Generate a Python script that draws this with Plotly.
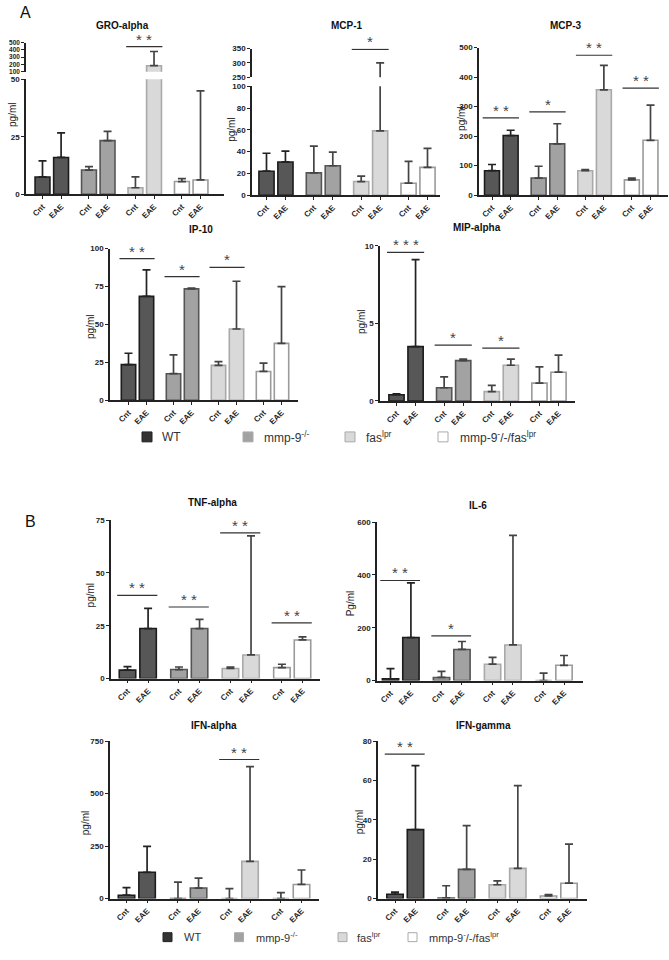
import plotly.graph_objects as go

W, H = 669, 960

# ---------------- data ----------------
GROUPS = ["WT", "mmp-9<sup>-/-</sup>", "fas<sup>lpr</sup>", "mmp-9<sup>-</sup>/-/fas<sup>lpr</sup>"]
CONDITIONS = ["Cnt", "EAE"]
# order of values: WT Cnt, WT EAE, mmp Cnt, mmp EAE, fas Cnt, fas EAE, dko Cnt, dko EAE
gro_mean = [7.5, 16.0, 10.5, 23.3, 2.8, 182, 5.5, 6.2]
gro_sd = [7.0, 10.7, 1.5, 4.0, 4.7, 196, 1.3, 38.8]
mcp1_mean = [22, 30.5, 20.5, 27, 12.5, 59, 11, 25.5]
mcp1_sd = [16.5, 10, 24.5, 12.5, 5, 241, 20, 17.5]
mcp3_mean = [83, 202, 58, 174, 83, 357, 52, 186]
mcp3_sd = [21, 18, 40, 68, 4, 83, 6, 119]
ip10_mean = [23.5, 68.5, 17.5, 73.5, 23, 47, 19, 37.5]
ip10_sd = [7.5, 17.5, 12.5, 0.5, 2.5, 31.5, 5.5, 37.5]
mip_mean = [0.4, 3.5, 0.85, 2.6, 0.6, 2.3, 1.15, 1.85]
mip_sd = [0.05, 5.6, 0.7, 0.1, 0.4, 0.4, 1.05, 1.1]
tnf_mean = [4.0, 23.7, 4.3, 23.7, 4.8, 11.2, 5.2, 18.3]
tnf_sd = [1.7, 9.5, 1.2, 4.3, 0.7, 56.3, 1.6, 1.5]
il6_mean = [7, 163, 12, 118, 62, 135, 0, 58]
il6_sd = [38, 207, 23, 30, 26, 415, 28, 37]
ifna_mean = [16, 125, 0, 50, 0, 177, 0, 67]
ifna_sd = [36, 123, 78, 47, 47, 451, 28, 69]
ifng_mean = [2.2, 35, 0.3, 14.8, 7, 15.3, 1.3, 7.8]
ifng_sd = [1.1, 32.5, 6.2, 22.2, 2, 42, 0.7, 19.8]

# significance: (group index, bracket value, label)
gro_sig = [(2, 445, "* *")]
mcp1_sig = [(2, 347, "*")]
mcp3_sig = [(0, 262, "* *"), (1, 282, "*"), (2, 474, "* *"), (3, 363, "* *")]
ip10_sig = [(0, 93.5, "* *"), (1, 81.5, "*"), (2, 87.6, "*")]
mip_sig = [(0, 9.57, "* * *"), (1, 3.6, "*"), (2, 3.4, "*")]
tnf_sig = [(0, 39.4, "* *"), (1, 33.9, "* *"), (2, 69, "* *"), (3, 26.4, "* *")]
il6_sig = [(0, 379, "* *"), (1, 169, "*")]
ifna_sig = [(2, 662, "* *")]
ifng_sig = [(0, 73.3, "* *")]

# ---------------- style ----------------
FONT = "Liberation Sans, Arial, sans-serif"
FILL = ["#575757", "#a2a2a2", "#d9d9d9", "#ffffff"]
EDGE = ["#1c1c1c", "#555555", "#a9a9a9", "#9a9a9a"]
ERRC = ["#222222", "#444444", "#444444", "#444444"]
STEP = 2.5


def pos(g, c):
    return g * STEP + c


def pxx(x):
    return x / W


def pxy(y):
    return 1 - y / H


panels = [
    dict(title="GRO-alpha", mean=gro_mean, sd=gro_sd, x=(26, 224), c=(42.5, 200.5),
         segs=[((192, 76), (0, 50), [0, 25, 50], 8), ((68.3, 39), (100, 500), [100, 200, 300, 400, 500], 6.5)],
         sig=gro_sig, sigseg=1, tpos=(122, 22), ylab=(13, 112), ytext="pg/ml"),
    dict(title="MCP-1", mean=mcp1_mean, sd=mcp1_sd, x=(252, 440), c=(266.5, 427.5),
         segs=[((193, 83), (0, 100), [0, 20, 40, 60, 80, 100], 8), ((74, 45), (250, 350), [250, 300, 350], 8)],
         sig=mcp1_sig, sigseg=1, tpos=(347, 22), ylab=(232, 127), ytext="pg/ml"),
    dict(title="MCP-3", mean=mcp3_mean, sd=mcp3_sd, x=(479, 668), c=(492, 650.5),
         segs=[((193, 44), (0, 500), [0, 100, 200, 300, 400, 500], 8)],
         sig=mcp3_sig, sigseg=0, tpos=(566, 22), ylab=(462, 116), ytext="pg/ml"),
    dict(title="IP-10", mean=ip10_mean, sd=ip10_sd, x=(110, 298), c=(128.5, 281.5),
         segs=[((400, 247), (0, 100), [0, 25, 50, 75, 100], 8)],
         sig=ip10_sig, sigseg=0, tpos=(201, 228), ylab=(91, 326), ytext="pg/ml"),
    dict(title="MIP-alpha", mean=mip_mean, sd=mip_sd, x=(380, 575), c=(396.5, 558.5),
         segs=[((400.7, 244), (0, 10), [0, 5, 10], 8)],
         sig=mip_sig, sigseg=0, tpos=(477, 226), ylab=(362, 321), ytext="pg/ml"),
    dict(title="TNF-alpha", mean=tnf_mean, sd=tnf_sd, x=(111, 320), c=(127.5, 302.5),
         segs=[((681, 521), (0, 75), [0, 25, 50, 75], 8)],
         sig=tnf_sig, sigseg=0, tpos=(213, 503), ylab=(90, 597), ytext="pg/ml"),
    dict(title="IL-6", mean=il6_mean, sd=il6_sd, x=(377, 583), c=(390.5, 564),
         segs=[((683, 523), (0, 600), [0, 200, 400, 600], 8)],
         sig=il6_sig, sigseg=0, tpos=(478, 506), ylab=(350, 605), ytext="Pg/ml"),
    dict(title="IFN-alpha", mean=ifna_mean, sd=ifna_sd, x=(110, 319), c=(126.5, 301.5),
         segs=[((903, 744), (0, 750), [0, 250, 500, 750], 8)],
         sig=ifna_sig, sigseg=0, tpos=(214, 728), ylab=(85, 827), ytext="pg/ml"),
    dict(title="IFN-gamma", mean=ifng_mean, sd=ifng_sd, x=(378, 587), c=(395, 569),
         segs=[((903, 744), (0, 80), [0, 20, 40, 60, 80], 8)],
         sig=ifng_sig, sigseg=0, tpos=(483, 728), ylab=(359, 826), ytext="pg/ml"),
]

fig = go.Figure()
layout = {}
shapes = []
annotations = []
kx = 0
ky = 0
for p in panels:
    x0px, x1px = p["x"]
    first, last = p["c"]
    b = (last - first) / pos(3, 1)
    xr = [(x0px - first) / b, (x1px - first) / b]
    kx += 1
    xa = "xaxis" if kx == 1 else f"xaxis{kx}"
    xref = "x" if kx == 1 else f"x{kx}"
    first_yref = "y" if ky + 1 == 1 else f"y{ky + 1}"
    tickvals = [pos(g, c) for g in range(4) for c in range(2)]
    layout[xa] = dict(
        domain=[pxx(x0px), pxx(x1px)], range=xr, anchor=first_yref,
        showline=True, linecolor="#222", linewidth=1.5,
        ticks="outside", ticklen=3, tickwidth=1, tickcolor="#222",
        tickmode="array", tickvals=tickvals, ticktext=CONDITIONS * 4,
        tickangle=-45, tickfont=dict(family=FONT, size=8, color="#222", weight="bold"),
        showgrid=False, zeroline=False, fixedrange=True,
    )
    seg_refs = []
    for si, (ypx, yrng, ticks, tfs) in enumerate(p["segs"]):
        ky += 1
        ya = "yaxis" if ky == 1 else f"yaxis{ky}"
        yref = "y" if ky == 1 else f"y{ky}"
        seg_refs.append((xref, yref))
        layout[ya] = dict(
            domain=[pxy(ypx[0]), pxy(ypx[1])], range=list(yrng), anchor=xref,
            showline=True, linecolor="#222", linewidth=1.5,
            ticks="outside", ticklen=3, tickwidth=1, tickcolor="#222",
            tickmode="array", tickvals=ticks,
            tickfont=dict(family=FONT, size=tfs, color="#222", weight="bold"),
            showgrid=False, zeroline=False, fixedrange=True,
        )
        for g in range(4):
            fig.add_trace(go.Bar(
                x=[pos(g, 0), pos(g, 1)],
                y=p["mean"][2 * g:2 * g + 2],
                width=0.8,
                marker=dict(color=FILL[g], line=dict(color=EDGE[g], width=1.6)),
                error_y=dict(type="data", symmetric=False,
                             array=p["sd"][2 * g:2 * g + 2], arrayminus=[0, 0],
                             color=ERRC[g], thickness=1.7, width=4),
                xaxis=xref, yaxis=yref, showlegend=False, name=GROUPS[g],
            ))
    sxref, syref = seg_refs[p["sigseg"]]
    for g, yv, lab in p["sig"]:
        shapes.append(dict(type="line", xref=sxref, yref=syref,
                           x0=pos(g, 0) - 0.5, x1=pos(g, 1) + 0.45, y0=yv, y1=yv,
                           line=dict(color="#333", width=1.2)))
        annotations.append(dict(xref=sxref, yref=syref, x=pos(g, 0.5) - 0.02, y=yv,
                                text=lab, showarrow=False, yanchor="bottom", yshift=-3,
                                font=dict(family=FONT, size=15, color="#444")))
    annotations.append(dict(xref="paper", yref="paper", x=pxx(p["tpos"][0]), y=pxy(p["tpos"][1]),
                            text=p["title"], showarrow=False, xanchor="center", yanchor="middle",
                            font=dict(family=FONT, size=10, color="#111", weight="bold")))
    annotations.append(dict(xref="paper", yref="paper", x=pxx(p["ylab"][0]), y=pxy(p["ylab"][1]),
                            text=p["ytext"], showarrow=False, textangle=-90,
                            xanchor="center", yanchor="middle",
                            font=dict(family=FONT, size=10, color="#222")))

# panel letters
annotations.append(dict(xref="paper", yref="paper", x=pxx(26), y=pxy(9), text="A", showarrow=False,
                        xanchor="center", yanchor="middle",
                        font=dict(family=FONT, size=16, color="#111")))
annotations.append(dict(xref="paper", yref="paper", x=pxx(30), y=pxy(522), text="B", showarrow=False,
                        xanchor="center", yanchor="middle",
                        font=dict(family=FONT, size=16, color="#111")))


def add_legend(sq_centers, txt_x, yc, size, fs):
    for g in range(4):
        cx = sq_centers[g]
        shapes.append(dict(type="rect", xref="paper", yref="paper",
                           x0=pxx(cx - size / 2), x1=pxx(cx + size / 2),
                           y0=pxy(yc + size / 2), y1=pxy(yc - size / 2),
                           fillcolor=FILL[g] if g else "#333333",
                           line=dict(color="#aaaaaa" if g else "#222", width=1)))
        annotations.append(dict(xref="paper", yref="paper", x=pxx(txt_x[g]), y=pxy(yc),
                                text=GROUPS[g], showarrow=False, xanchor="left", yanchor="middle",
                                font=dict(family=FONT, size=fs, color="#333")))


add_legend([147, 248, 350, 443], [160, 262, 364, 458], 437, 10, 12)
add_legend([167.5, 239, 342.5, 412.5], [182, 254, 355, 427], 942, 9, 11)

fig.update_layout(
    width=W, height=H, margin=dict(l=0, r=0, t=0, b=0),
    paper_bgcolor="white", plot_bgcolor="white",
    barmode="overlay", showlegend=False,
    shapes=shapes, annotations=annotations,
    **layout,
)

fig.write_html("out.html", config={"displayModeBar": False},
               post_script="document.body.style.margin='0';document.body.style.overflow='hidden';")
